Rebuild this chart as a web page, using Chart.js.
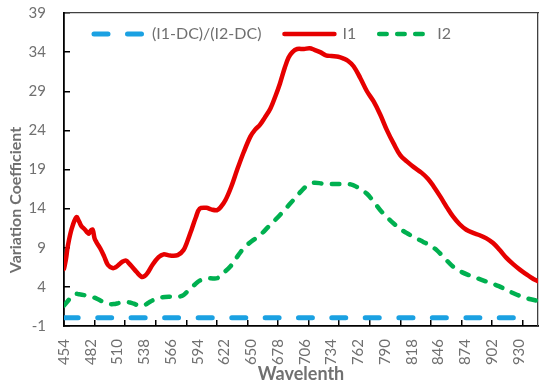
<!DOCTYPE html>
<html>
<head>
<meta charset="utf-8">
<script src="https://cdn.jsdelivr.net/npm/chart.js@4.4.0/dist/chart.umd.min.js"></script>
<style>
  html, body { margin: 0; padding: 0; background: #fff; }
</style>
</head>
<body>
<canvas id="chart" width="550" height="389"></canvas>
<script>
// values
const ratioWave = [454, 940];
const ratioVals = [0.05, 0.05];

const i1Wave = [454, 456, 458, 462, 467, 470, 472, 476, 478, 480, 482, 484, 486, 488, 492, 496, 500, 505, 508,
  511, 515, 519, 522, 525, 530, 535, 538, 541, 547, 553, 558, 565, 573, 579, 583, 588, 592, 596, 603, 608,
  614, 618, 623, 629, 635, 642, 649, 654, 659, 664, 670, 675, 680, 685, 689, 693, 698, 705, 711, 716, 722,
  728, 734, 741, 746, 751, 757, 764, 771, 778, 785, 792, 799, 806, 813, 820, 828, 835, 841, 848, 855, 861,
  868, 875, 882, 889, 896, 903, 910, 917, 924, 931, 938, 944, 950];
const i1Vals = [6.3, 7.5, 9.2, 11.4, 12.9, 12.3, 11.8, 11.3, 11.0, 10.8, 11.2, 11.3, 10.2, 9.7, 8.9, 7.9, 6.8, 6.4, 6.5,
  6.8, 7.2, 7.35, 7.0, 6.6, 5.9, 5.3, 5.35, 5.7, 6.9, 7.8, 8.15, 8.0, 8.05, 8.7, 9.8, 11.5, 12.9, 14.0, 14.1, 13.9,
  13.8, 14.2, 15.1, 16.8, 18.9, 21.2, 23.2, 24.1, 24.7, 25.6, 26.8, 28.3, 30.0, 32.0, 33.3, 34.0, 34.4, 34.4, 34.5, 34.3, 34.0,
  33.6, 33.5, 33.4, 33.2, 32.9, 32.2, 30.7, 29.0, 27.7, 26.0, 24.0, 22.3, 20.8, 20.0, 19.3, 18.6, 17.8, 16.8, 15.5, 14.1, 13.0,
  12.0, 11.3, 10.9, 10.6, 10.2, 9.6, 8.7, 7.7, 6.9, 6.2, 5.6, 5.1, 4.7];

const i2Wave = [454, 458, 462, 466, 470, 475, 480, 485, 489, 493, 497, 502, 506, 512, 518, 523, 527, 531, 535, 539,
  544, 549, 555, 565, 574, 579, 583, 587, 591, 596, 601, 607, 614, 621, 628, 635, 642, 650, 659, 668, 677,
  686, 694, 702, 708, 715, 725, 736, 746, 754, 760, 765, 771, 778, 785, 792, 799, 806, 813, 821, 830, 837,
  844, 852, 861, 870, 882, 891, 900, 909, 917, 925, 933, 941, 950];
const i2Vals = [1.6, 2.2, 2.8, 3.1, 3.05, 2.95, 2.8, 2.65, 2.45, 2.2, 1.95, 1.8, 1.8, 1.95, 2.05, 2.0, 1.85, 1.65, 1.55, 1.7,
  2.1, 2.4, 2.65, 2.75, 2.75, 2.95, 3.4, 3.8, 4.3, 4.8, 5.0, 5.1, 5.1, 5.8, 6.6, 7.8, 8.95, 9.8, 10.6, 11.7, 12.8,
  14.0, 15.1, 16.2, 16.9, 17.3, 17.2, 17.15, 17.15, 17.1, 16.8, 16.4, 15.9, 14.9, 13.8, 12.9, 12.1, 11.4, 10.85, 10.3, 9.75, 9.3,
  8.7, 7.7, 6.6, 5.9, 5.3, 4.9, 4.5, 4.1, 3.6, 3.15, 2.75, 2.45, 2.2];

const xTickLabels = [454, 482, 510, 538, 566, 594, 622, 650, 678, 706, 734, 762, 790, 818, 846, 874, 902, 930];
const xTickMarks = [454, 486, 518, 550, 582, 614, 646, 678, 710, 742, 774, 806, 838, 870, 902, 934];
const yTicks = [-1, 4, 9, 14, 19, 24, 29, 34, 39];

const gray = '#707070';
Chart.defaults.font.family = 'Lato';

function toPoints(xs, ys) {
  return xs.map((x, i) => ({ x: x, y: ys[i] }));
}

// axes should not push the plot area in (Excel plot area is fixed)
function noPad(axis) {
  axis.paddingTop = 0;
  axis.paddingBottom = 0;
  axis.paddingLeft = 0;
  axis.paddingRight = 0;
}

// legend sits inside the plot in one row, like the Excel one
const insideLegend = {
  id: 'insideLegend',
  afterDatasetsDraw(chart) {
    const ctx = chart.ctx;
    const y = 34;
    let x = 94;
    ctx.save();
    ctx.font = '16px Lato';
    ctx.textBaseline = 'middle';
    ctx.textAlign = 'left';
    chart.data.datasets.forEach(ds => {
      ctx.beginPath();
      ctx.strokeStyle = ds.borderColor;
      ctx.lineWidth = ds.borderWidth;
      ctx.lineCap = ds.borderCapStyle || 'butt';
      ctx.setLineDash(ds.borderDash || []);
      ctx.moveTo(x, y);
      ctx.lineTo(x + 50, y);
      ctx.stroke();
      ctx.setLineDash([]);
      ctx.fillStyle = gray;
      const tx = x + 58;
      ctx.fillText(ds.label, tx, y);
      x = tx + ctx.measureText(ds.label).width + 23;
    });
    ctx.restore();
  }
};

const yTitle = {
  id: 'yTitle',
  afterDraw(chart) {
    const ctx = chart.ctx;
    ctx.save();
    ctx.font = 'bold 16px Lato';
    ctx.fillStyle = gray;
    ctx.textAlign = 'center';
    ctx.textBaseline = 'middle';
    ctx.translate(16, 200);
    ctx.rotate(-Math.PI / 2);
    ctx.fillText('Variation Coefficient', 0, 0);
    ctx.restore();
  }
};

new Chart(document.getElementById('chart'), {
  type: 'line',
  data: {
    datasets: [
      {
        label: '(I1-DC)/(I2-DC)',
        data: toPoints(ratioWave, ratioVals),
        borderColor: '#1ba1e2',
        borderWidth: 5,
        borderDash: [14, 19.5],
        borderCapStyle: 'round'
      },
      {
        label: 'I1',
        data: toPoints(i1Wave, i1Vals),
        borderColor: '#e60000',
        borderWidth: 4.5,
        borderCapStyle: 'round',
        borderJoinStyle: 'round'
      },
      {
        label: 'I2',
        data: toPoints(i2Wave, i2Vals),
        borderColor: '#00b050',
        borderWidth: 4.5,
        borderDash: [7.5, 10.5],
        borderCapStyle: 'round'
      }
    ]
  },
  options: {
    responsive: false,
    animation: false,
    layout: { padding: { left: 0, right: 12, top: 13, bottom: 0 } },
    elements: {
      point: { radius: 0 },
      line: { tension: 0.35, fill: false }
    },
    plugins: {
      tooltip: { enabled: false },
      legend: { display: false }
    },
    scales: {
      x: {
        type: 'linear',
        position: 'bottom',
        min: 454,
        max: 950,
        afterBuildTicks: (axis) => { axis.ticks = xTickLabels.map(v => ({ value: v })); },
        afterFit: (axis) => { axis.height = 63; noPad(axis); },
        ticks: {
          autoSkip: false,
          minRotation: 90,
          maxRotation: 90,
          padding: 13,
          color: gray,
          font: { size: 15 }
        },
        grid: { drawOnChartArea: false, drawTicks: false },
        border: { color: '#000', width: 1.8 },
        title: {
          display: true,
          text: 'Wavelenth',
          color: gray,
          font: { size: 18, weight: 'bold' },
          padding: { top: 0, bottom: 4 }
        }
      },
      xMarks: {
        type: 'linear',
        position: 'bottom',
        weight: -1,
        min: 454,
        max: 950,
        afterBuildTicks: (axis) => { axis.ticks = xTickMarks.map(v => ({ value: v })); },
        afterFit: (axis) => { axis.height = 0; noPad(axis); },
        ticks: { display: false },
        grid: { drawOnChartArea: false, drawTicks: true, tickLength: -6, color: '#000', lineWidth: 1.5 },
        border: { display: false }
      },
      xTop: {
        type: 'linear',
        position: 'top',
        min: 454,
        max: 950,
        afterFit: (axis) => { axis.height = 0; noPad(axis); },
        ticks: { display: false },
        grid: { drawOnChartArea: false, drawTicks: false },
        border: { color: '#404040', width: 1.3 }
      },
      y: {
        min: -1,
        max: 39,
        afterBuildTicks: (axis) => { axis.ticks = yTicks.map(v => ({ value: v })); },
        afterFit: (axis) => { axis.width = 64; noPad(axis); },
        ticks: {
          padding: 24,
          color: gray,
          font: { size: 15 }
        },
        grid: { drawOnChartArea: false, drawTicks: true, tickLength: -6, color: '#000', lineWidth: 1.5 },
        border: { color: '#000', width: 1.8 }
      },
      yRight: {
        position: 'right',
        min: -1,
        max: 39,
        afterFit: (axis) => { axis.width = 0; noPad(axis); },
        ticks: { display: false },
        grid: { drawOnChartArea: false, drawTicks: false },
        border: { color: '#404040', width: 1.3 }
      }
    }
  },
  plugins: [insideLegend, yTitle]
});
</script>
</body>
</html>
